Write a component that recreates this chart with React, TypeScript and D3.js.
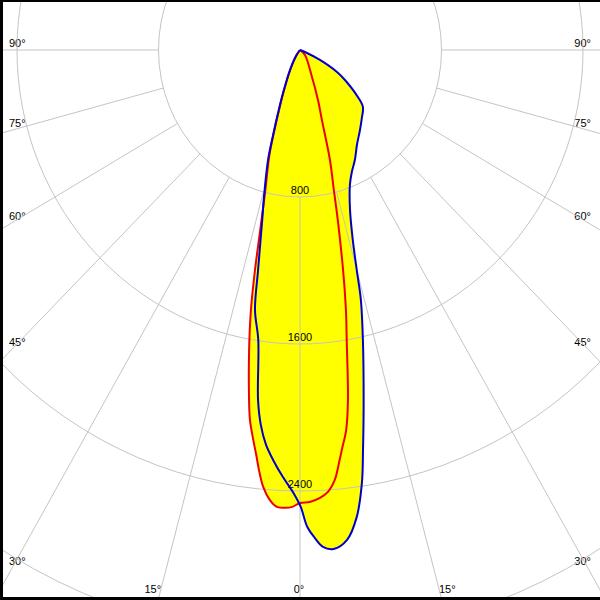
import { useRef, useEffect } from "react";
import * as d3 from "d3";

// Photometric polar curve: gamma angle in degrees (negative = left half), intensity in cd
const blueAngles = [-90, -34.7, -27.4, -22.3, -19.9, -18.2, -16.8, -14.4, -13.0, -11.2, -10.2, -8.5, -7.1, -6.2, -5.1, -3.9, -2.4, -0.9, 0.1, 0.9, 1.8, 2.75, 4.0, 5.7, 7.2, 8.45, 9.3, 10.7, 12.7, 14.2, 15.0, 16.1, 18.0, 21.0, 23.8, 27.4, 31.9, 37.9, 43.4, 48.9, 52.0, 57.3, 60.2, 64.3, 68.9, 90];
const blueValues = [0, 40, 123, 253, 365, 487, 625, 815, 950, 1220, 1437, 1596, 1919, 2052, 2158, 2236, 2325, 2410, 2487, 2595, 2656, 2707, 2722, 2679, 2561, 2382, 2205, 1938, 1618, 1403, 1240, 1076, 915, 787, 726, 674, 609, 552, 509, 472, 415, 302, 241, 125, 30, 0];

const redAngles = [-90, -34.7, -27.4, -22.3, -19.9, -18.2, -16.8, -14.4, -13.0, -12.0, -11.1, -10.0, -8.6, -8.0, -7.1, -6.4, -5.8, -5.0, -4.0, -3.0, -1.9, -1.0, 0, 1.3, 2.65, 3.76, 4.8, 5.6, 6.2, 7.2, 8.1, 9.5, 10.4, 11.5, 13.0, 14.1, 15.8, 18.0, 20.5, 24.7, 46, 90];
const redValues = [0, 35, 115, 240, 350, 470, 600, 790, 990, 1224, 1441, 1657, 1926, 2033, 2138, 2218, 2297, 2387, 2454, 2490, 2493, 2487, 2465, 2460, 2440, 2410, 2348, 2258, 2189, 2084, 1924, 1600, 1438, 1221, 950, 785, 622, 401, 290, 162, 39, 0];

const ringValues = [800, 1600, 2400, 3200];
const ringLabels = ["800", "1600", "2400"];
const spokeAngles = [-90, -75, -60, -45, -30, -15, 0, 15, 30, 45, 60, 75, 90];

export default function App() {
    const ref = useRef<SVGSVGElement>(null);

    useEffect(() => {
        if (!ref.current) return;
        const width = 600;
        const height = 600;
        const cx = 300;
        const cy = 50;

        // radius scales (the picture is slightly stretched vertically)
        const rX = d3.scaleLinear().domain([0, 800]).range([0, 141.5]);
        const rY = d3.scaleLinear().domain([0, 800]).range([0, 147]);
        const rad = (a: number) => (a * Math.PI) / 180;
        const px = (a: number, v: number) => cx + rX(v) * Math.sin(rad(a));
        const py = (a: number, v: number) => cy + rY(v) * Math.cos(rad(a));

        const svg = d3.select(ref.current);
        svg.selectAll("*").remove();
        svg.attr("width", width).attr("height", height);

        svg.append("rect").attr("width", width).attr("height", height).attr("fill", "#fff");

        const blue = blueAngles.map((a, i) => [a, blueValues[i]] as [number, number]);
        const red = redAngles.map((a, i) => [a, redValues[i]] as [number, number]);

        const line = d3
            .line<[number, number]>()
            .x((d) => px(d[0], d[1]))
            .y((d) => py(d[0], d[1]))
            .curve(d3.curveCatmullRom.alpha(0.5));

        // yellow fills
        [blue, red].forEach((s) => {
            svg.append("path").attr("d", line(s)! + "Z").attr("fill", "#ffff00").attr("stroke", "none");
        });

        const font = "Liberation Sans, Arial, sans-serif";

        // ring labels
        ringLabels.forEach((t, i) => {
            svg.append("text")
                .attr("x", cx)
                .attr("y", cy + rY(ringValues[i]) - 3)
                .attr("text-anchor", "middle")
                .attr("font-family", font)
                .attr("font-size", 11)
                .attr("fill", "#000")
                .text(t);
        });

        // angle labels
        spokeAngles.forEach((a) => {
            const s = Math.sin(rad(Math.abs(a)));
            const c = Math.cos(rad(Math.abs(a)));
            let x: number;
            let y: number;
            let anchor = "middle";
            const vSide = s > 0 ? rX.invert(288 / s) : Infinity;
            const ySide = cy + rY(vSide) * c - 7;
            if (s > 0 && ySide < 575) {
                y = ySide;
                x = a < 0 ? 9 : 591;
                anchor = a < 0 ? "start" : "end";
            } else {
                const v = rY.invert(538 / c);
                const lx = cx + rX(v) * Math.sin(rad(a));
                x = lx + Math.sign(a) * 8.5 - (a === 0 ? 1 : 0);
                y = 589;
            }
            svg.append("text")
                .attr("x", x)
                .attr("y", y)
                .attr("dy", "0.36em")
                .attr("text-anchor", anchor)
                .attr("font-family", font)
                .attr("font-size", 11)
                .attr("fill", "#000")
                .text(`${Math.abs(a)}°`);
        });

        // grid
        const grid = svg.append("g").attr("stroke", "#c4c4c4").attr("stroke-width", 1).attr("fill", "none");
        ringValues.forEach((v) => {
            grid.append("ellipse").attr("cx", cx).attr("cy", cy).attr("rx", rX(v)).attr("ry", rY(v));
        });
        spokeAngles.forEach((a) => {
            grid.append("line")
                .attr("x1", px(a, 800))
                .attr("y1", py(a, 800))
                .attr("x2", px(a, 6000))
                .attr("y2", py(a, 6000));
        });

        // curves
        svg.append("path").attr("d", line(red)!).attr("fill", "none").attr("stroke", "#ee0000").attr("stroke-width", 2);
        svg.append("path").attr("d", line(blue)!).attr("fill", "none").attr("stroke", "#0000cc").attr("stroke-width", 2);

        // frame
        svg.append("rect").attr("x", 0).attr("y", 0).attr("width", 3).attr("height", height).attr("fill", "#000");
        svg.append("rect").attr("x", 0).attr("y", 0).attr("width", width).attr("height", 2).attr("fill", "#000");
        svg.append("rect").attr("x", 0).attr("y", 597).attr("width", width).attr("height", 3).attr("fill", "#000");
    });

    return <svg ref={ref} style={{ position: "absolute", left: 0, top: 0, display: "block" }}></svg>;
}
